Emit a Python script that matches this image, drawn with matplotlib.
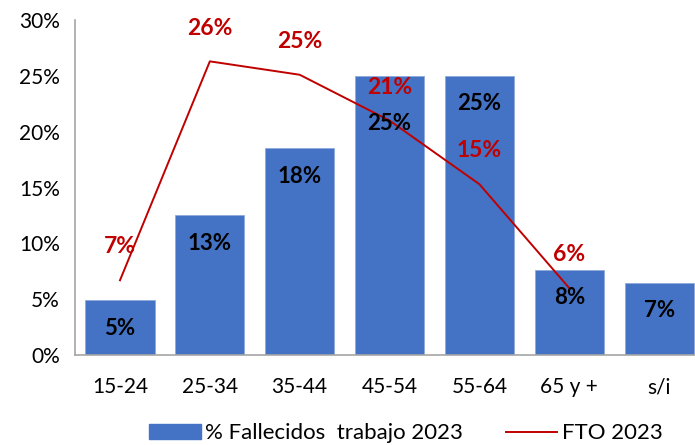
import matplotlib.pyplot as plt
from matplotlib.patches import Patch
from matplotlib.lines import Line2D

plt.rcParams.update({
    "font.family": ["Lato", "DejaVu Sans"],
    "font.size": 15,
})

# -------- data --------
categories = ["15-24", "25-34", "35-44", "45-54", "55-64", "65 y +", "s/i"]
fallecidos = [4.9, 12.5, 18.5, 25.0, 25.0, 7.6, 6.5]
fallecidos_labels = ["5%", "13%", "18%", "25%", "25%", "8%", "7%"]
fto = [6.7, 26.3, 25.1, 21.0, 15.3, 6.0]
fto_labels = ["7%", "26%", "25%", "21%", "15%", "6%"]

blue = "#4472C4"
red = "#C00000"

fig = plt.figure(figsize=(6.95, 4.45), dpi=100)
ax = fig.add_axes([0.108, 0.202, 0.905, 0.753])

x = list(range(len(categories)))
ax.bar(x, fallecidos, width=0.77, color=blue, edgecolor="#8FAADC", linewidth=0.6, zorder=2)
ax.plot(x[:len(fto)], fto, color=red, linewidth=1.4, zorder=3)

# bar labels (inside, near the top)
for i, (v, lab) in enumerate(zip(fallecidos, fallecidos_labels)):
    off = -34 if i == 3 else -20
    ax.annotate(lab, (i, v), xytext=(0, off), textcoords="offset points",
                ha="center", va="center", fontsize=16, fontweight="bold",
                color="black", zorder=5)

# line labels (above the points)
for i, (v, lab) in enumerate(zip(fto, fto_labels)):
    ax.annotate(lab, (i, v), xytext=(0, 24), textcoords="offset points",
                ha="center", va="center", fontsize=16.5, fontweight="bold",
                color=red, zorder=5)

ax.set_xlim(-0.5, len(categories) - 0.5)
ax.set_ylim(0, 30)
ax.set_yticks(range(0, 31, 5))
ax.set_yticklabels([f"{t}%" for t in range(0, 31, 5)])
ax.set_xticks(x)
ax.set_xticklabels(categories)
ax.tick_params(axis="both", length=0, labelsize=15)
ax.tick_params(axis="y", pad=11)
ax.tick_params(axis="x", pad=16)

for s in ["top", "right"]:
    ax.spines[s].set_visible(False)
for s in ["left", "bottom"]:
    ax.spines[s].set_color("#A6A6A6")
    ax.spines[s].set_linewidth(1.2)

handles = [Patch(facecolor=blue, edgecolor=blue),
           Line2D([0], [0], color=red, linewidth=1.4)]
fig.legend(handles, ["% Fallecidos  trabajo 2023", "FTO 2023"],
           loc="center", bbox_to_anchor=(0.584, 0.026), ncol=2, frameon=False,
           fontsize=16, handlelength=2.3, handleheight=0.65, handletextpad=0.22,
           columnspacing=1.9)

fig.savefig("out.png", dpi=100)
